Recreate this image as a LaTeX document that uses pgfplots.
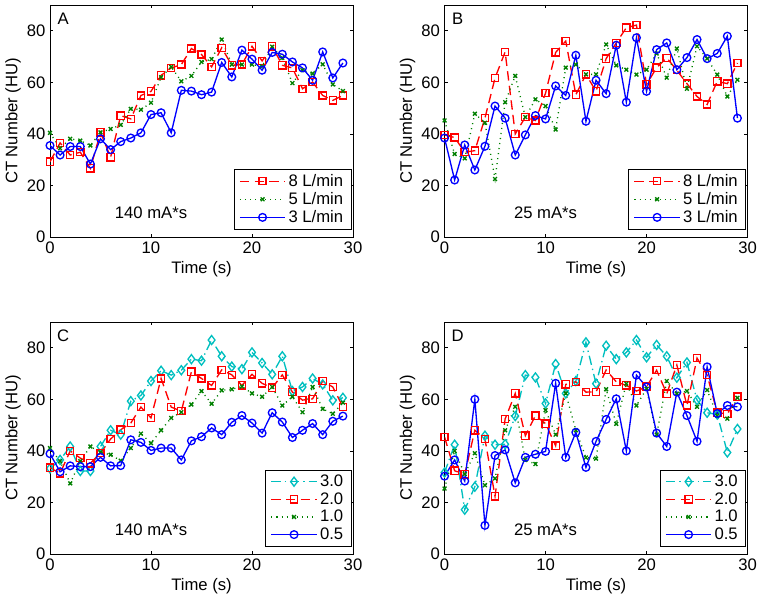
\documentclass[border=0pt]{standalone}
\usepackage{pgfplots}
\usepackage{pgfplotstable}
\pgfplotsset{compat=1.18}
\usepackage{fontspec}
\setmainfont{Liberation Sans}
\definecolor{mgreen}{rgb}{0,0.5,0}
\definecolor{mcyan}{rgb}{0,0.75,0.75}

\pgfplotstableread{
t r g b
0 29.2 40.4 35.5
1 36.5 34.4 31.8
2 31.8 38.1 35.1
3 32.9 37.4 35.1
4 26.6 35.5 28.3
5 40.6 40.6 38.1
6 30.9 41.9 33.9
7 47.1 43.5 37.0
8 45.8 49.7 38.4
9 54.9 49.4 40.4
10 56.5 52.1 47.5
11 62.7 62.0 48.2
12 65.6 66.0 40.4
13 66.9 60.4 56.9
14 73.1 62.5 56.6
15 70.8 67.9 55.2
16 66.0 69.0 56.2
17 73.4 76.6 67.7
18 66.6 66.9 62.1
19 66.9 66.9 72.5
20 74.0 66.9 69.0
21 68.3 66.2 64.7
22 74.0 73.8 71.6
23 66.6 69.5 70.9
24 65.6 59.7 67.9
25 57.5 64.7 65.6
26 60.1 63.4 60.8
27 54.9 67.0 71.8
28 53.0 59.2 61.7
29 54.9 56.6 67.5
}\dataA

\pgfplotstableread{
t r g b
0 39.6 45.2 38.4
1 38.6 32.2 22.1
2 32.9 30.5 35.7
3 33.5 47.8 26.0
4 46.1 44.3 35.2
5 61.7 22.5 50.8
6 71.8 52.3 46.1
7 40.0 62.5 31.8
8 46.5 46.5 39.6
9 45.2 53.4 47.1
10 55.8 50.8 45.8
11 71.6 41.7 58.6
12 76.0 65.7 54.9
13 55.2 66.9 70.5
14 63.1 63.1 44.9
15 56.5 63.1 60.8
16 69.2 74.7 55.6
17 75.3 66.6 74.4
18 81.2 64.9 52.3
19 82.2 63.0 77.3
20 59.2 64.9 56.5
21 65.7 71.2 72.7
22 69.5 61.8 75.3
23 64.7 73.1 64.9
24 59.5 57.5 69.6
25 54.5 74.0 76.6
26 51.4 69.2 69.2
27 60.4 63.0 71.2
28 59.5 54.5 77.9
29 67.5 61.0 46.1
}\dataB

\pgfplotstableread{
t c r g b
0 33.2 33.5 41.1 38.9
1 36.5 31.3 36.0 31.9
2 41.7 40.0 27.4 34.2
3 32.2 37.2 36.0 33.9
4 32.2 35.2 41.7 33.9
5 41.7 39.1 39.4 37.5
6 48.0 44.6 38.5 34.2
7 46.3 48.2 36.2 34.3
8 59.3 50.8 41.1 44.3
9 61.5 57.0 46.7 43.3
10 67.1 52.8 43.0 40.2
11 71.1 68.1 48.0 41.1
12 69.4 57.0 52.8 41.1
13 71.3 55.4 55.0 36.5
14 75.6 70.7 58.0 43.9
15 75.0 68.1 63.2 45.5
16 83.0 65.4 58.3 48.9
17 76.7 71.4 63.5 46.3
18 72.7 69.5 63.9 51.1
19 71.7 65.4 65.0 53.7
20 78.2 69.7 62.3 50.8
21 74.1 66.2 61.0 46.9
22 69.7 64.5 64.8 54.8
23 76.7 69.5 57.6 51.2
24 63.2 62.8 61.0 45.2
25 64.8 59.7 55.0 48.0
26 68.1 60.2 64.8 50.6
27 65.8 67.1 56.3 46.3
28 59.6 64.8 54.4 51.5
29 60.6 57.1 58.7 53.5
}\dataC

\pgfplotstableread{
t c r g b
0 31.6 45.4 25.4 30.2
1 42.4 32.3 40.0 36.5
2 17.2 30.9 31.0 28.3
3 26.1 48.0 39.1 60.0
4 45.9 44.6 26.7 11.1
5 42.4 22.4 29.3 38.2
6 42.6 52.4 48.0 40.4
7 53.5 62.3 57.1 27.6
8 69.4 45.9 36.5 37.5
9 68.5 53.7 34.9 38.7
10 58.4 50.6 55.8 39.8
11 73.7 42.0 46.3 66.2
12 62.3 65.8 62.3 37.5
13 67.1 66.8 48.0 47.2
14 82.1 62.8 37.4 33.6
15 66.1 62.9 37.0 43.7
16 80.8 71.4 63.9 52.2
17 75.6 66.8 50.5 60.2
18 78.2 65.4 66.1 40.0
19 83.0 63.2 57.6 69.4
20 76.3 64.9 64.1 64.8
21 81.1 71.3 46.3 46.9
22 76.7 62.2 67.1 41.7
23 68.4 73.3 62.2 62.8
24 74.3 57.6 63.2 53.7
25 59.7 76.0 57.1 43.7
26 54.8 69.4 63.6 72.6
27 54.1 54.8 53.7 54.5
28 39.4 54.4 52.5 57.6
29 48.5 61.0 60.6 57.1
}\dataD

\pgfplotsset{
  panel/.style={
    width=227.25pt, height=174pt, scale only axis,
    xmin=0, xmax=30, ymin=0, ymax=90,
    xtick={0,10,20,30}, ytick={0,20,40,60,80},
    tick align=inside, major tick length=2.5pt,
    axis line style={line width=0.6pt},
    every tick/.style={black, line width=0.5pt},
    /pgf/number format/assume math mode=true,
    tick label style={font=\fontsize{12.5}{15}\selectfont},
    label style={font=\fontsize{12.5}{15}\selectfont},
    xlabel={Time (s)}, ylabel={CT Number (HU)},
    xlabel style={at={(axis description cs:0.5,-0.138)}, anchor=center},
    ylabel style={at={(axis description cs:-0.122,0.5)}, anchor=center},
    legend style={at={(axis description cs:0.995,0.033)}, anchor=south east,
      draw=black, fill=white, font=\fontsize{12.5}{15}\selectfont,
      cells={anchor=west}, inner xsep=4pt, inner ysep=1.5pt, row sep=-1pt},
    legend image code/.code={\draw[mark repeat=2,mark phase=2] plot coordinates {(0pt,0pt) (17pt,0pt) (34pt,0pt)};},
  },
  sred/.style={red, line width=1pt, dash pattern=on 7pt off 4pt, mark=square, mark size=2.7pt, mark options={solid}},
  sgreen/.style={mgreen, line width=1pt, dash pattern=on 0.8pt off 3pt, mark=x, mark size=2pt, mark options={solid}},
  sblue/.style={blue, line width=1pt, solid, mark=o, mark size=2.9pt, mark options={solid}},
  scyan/.style={mcyan, line width=1pt, dash pattern=on 7pt off 3pt on 1pt off 3pt, mark=diamond, mark size=3.4pt, mark options={solid}},
}

\begin{document}
\begin{tikzpicture}[font=\fontsize{12.5}{15}\selectfont]
\path[use as bounding box] (0,0) rectangle (571.5pt,-449.25pt);

\begin{axis}[panel, at={(37.5pt,-3.75pt)}, anchor=north west]
\addplot[sred] table[x=t,y=r] {\dataA};
\addplot[sgreen] table[x=t,y=g] {\dataA};
\addplot[sblue] table[x=t,y=b] {\dataA};
\legend{8 L/min, 5 L/min, 3 L/min}
\node at (axis cs:1.3,84.6) {A};
\node at (axis cs:10,9.5) {140 mA*s};
\end{axis}

\begin{axis}[panel, at={(333.4pt,-3.75pt)}, anchor=north west]
\addplot[sred] table[x=t,y=r] {\dataB};
\addplot[sgreen] table[x=t,y=g] {\dataB};
\addplot[sblue] table[x=t,y=b] {\dataB};
\legend{8 L/min, 5 L/min, 3 L/min}
\node at (axis cs:1.3,84.6) {B};
\node at (axis cs:10,9.5) {25 mA*s};
\end{axis}

\begin{axis}[panel, at={(37.5pt,-241.5pt)}, anchor=north west]
\addplot[scyan] table[x=t,y=c] {\dataC};
\addplot[sred] table[x=t,y=r] {\dataC};
\addplot[sgreen] table[x=t,y=g] {\dataC};
\addplot[sblue] table[x=t,y=b] {\dataC};
\legend{3.0, 2.0, 1.0, 0.5}
\node at (axis cs:1.3,84.6) {C};
\node at (axis cs:10,9.5) {140 mA*s};
\end{axis}

\begin{axis}[panel, at={(333.4pt,-241.5pt)}, anchor=north west]
\addplot[scyan] table[x=t,y=c] {\dataD};
\addplot[sred] table[x=t,y=r] {\dataD};
\addplot[sgreen] table[x=t,y=g] {\dataD};
\addplot[sblue] table[x=t,y=b] {\dataD};
\legend{3.0, 2.0, 1.0, 0.5}
\node at (axis cs:1.3,84.6) {D};
\node at (axis cs:10,9.5) {25 mA*s};
\end{axis}
\end{tikzpicture}
\end{document}
